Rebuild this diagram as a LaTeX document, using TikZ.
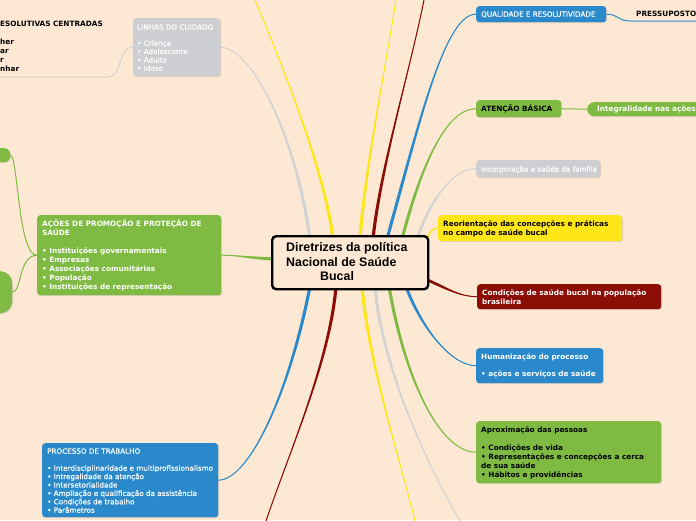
\documentclass[tikz,border=0pt]{standalone}
\usepackage{fontspec}
\setmainfont{DejaVu Sans}
\newfontfamily\cfont{Liberation Sans}
\newfontfamily\mfont[FakeBold=0.5]{DejaVu Sans}
\usetikzlibrary{calc,shadows}
\definecolor{bg}{HTML}{FDE8D3}
\definecolor{mgreen}{HTML}{7FBB42}
\definecolor{mblue}{HTML}{2A89CB}
\definecolor{mgray}{HTML}{CDCED1}
\definecolor{lgray}{HTML}{D2D3D5}
\definecolor{myellow}{HTML}{FFE619}
\definecolor{mred}{HTML}{8B0D05}
\pgfdeclarelayer{back}
\pgfdeclarelayer{lines}
\pgfsetlayers{back,lines,main}
\newcommand\fl{\rule{0pt}{7pt}}
% tapered branch: colour, start, c1, c2, end, half-width vector
\newcommand\tb[6]{%
  \fill[#1] ($(#2)+#6$) .. controls ($#3+#6$) and #4 .. (#5) .. controls #4 and ($#3-#6$) .. ($(#2)-#6$) -- cycle;
  \draw[#1,line width=1pt] (#2) .. controls #3 and #4 .. (#5);}
\begin{document}
\begin{tikzpicture}[x=1pt,y=-1pt,
  mbox/.style={anchor=north west, inner sep=0pt, rounded corners=3pt,
    drop shadow={shadow xshift=0.8pt, shadow yshift=-0.8pt, opacity=0.25}},
  txt/.style={anchor=north west, inner sep=0pt, align=left, font=\mfont\fontsize{7.2}{8.8}\selectfont},
  btxt/.style={anchor=north west, inner sep=0pt, align=left, font=\bfseries\fontsize{7.3}{9}\selectfont},
  frag/.style={anchor=base west, inner sep=0pt, font=\bfseries\fontsize{7.3}{9}\selectfont},
  conn/.style={line width=1pt}]
\useasboundingbox (0,0) rectangle (696,520);
\begin{pgfonlayer}{back}
\fill[bg] (0,0) rectangle (696,520);
\end{pgfonlayer}

% central node
\node[draw=black, line width=2.4pt, rounded corners=4pt, fill=bg, minimum width=156pt, minimum height=53pt, inner sep=0pt, anchor=north west] (c) at (271,235) {};
\node[anchor=north west, inner sep=0pt, align=left, font=\cfont\bfseries\fontsize{12.4}{14.5}\selectfont] (ct) at (286,242) {\rule{0pt}{9.5pt}Diretrizes da política\\Nacional de Saúde\\\hspace*{34pt}Bucal};

% left side
\node[mbox, fill=mgray, minimum width=87pt, minimum height=58pt] (linhas) at (133,18) {};
\node[txt, text=white, font=\mfont\fontsize{7.2}{8.4}\selectfont] (linhast) at (137,22.5) {\fl LINHAS DO CUIDADO\\[7.6pt]• Criança\\• Adolescente\\• Adulto\\• Idoso};

\node[anchor=base east, inner sep=0pt, font=\bfseries\fontsize{7.3}{9}\selectfont] (tl1) at (103,26.5) {ESOLUTIVAS CENTRADAS};
\node[frag] (tl2) at (0,44.5) {her};
\node[frag] (tl3) at (0,53.5) {ar};
\node[frag] (tl4) at (0,62) {r};
\node[frag] (tl5) at (0,71.5) {nhar};
\coordinate (tlu) at (-5,77);

\node[mbox, fill=mgreen, minimum width=35pt, minimum height=14pt, rounded corners=6pt] (lg1) at (-25,148) {};
\node[mbox, fill=mgreen, minimum width=45pt, minimum height=42pt, rounded corners=12pt] (lg2) at (-33,271) {};

\node[mbox, fill=mgreen, minimum width=184pt, minimum height=80pt] (acoes) at (37,215) {};
\node[btxt, text=white] (acoest) at (42,219.5) {\fl AÇÕES DE PROMOÇÃO E PROTEÇÃO DE\\SAÚDE\\[9pt]• Instituições governamentais\\• Empresas\\• Associações comunitárias\\• População\\• Instituições de representação};

\node[mbox, fill=mblue, minimum width=176pt, minimum height=74pt] (proc) at (42,443) {};
\node[txt, text=white, font=\mfont\fontsize{7.2}{8.4}\selectfont] (proct) at (47,446.5) {\fl PROCESSO DE TRABALHO\\[8.6pt]• Interdisciplinaridade e multiprofissionalismo\\• Intregalidade da atenção\\• Intersetorialidade\\• Ampliação e qualificação da assistência\\• Condições de trabalho\\• Parâmetros};

% right side
\node[mbox, fill=mblue, minimum width=130pt, minimum height=16pt] (qual) at (476,6) {};
\node[txt, text=white] (qualt) at (481,9.5) {\fl QUALIDADE E RESOLUTIVIDADE};
\node[anchor=base west, inner sep=0pt, font=\bfseries\fontsize{7.3}{9}\selectfont] (press) at (636,16.5) {PRESSUPOSTO};
\coordinate (pu) at (700,21);

\node[mbox, fill=mgreen, minimum width=85pt, minimum height=17pt] (aten) at (476,100) {};
\node[btxt] (atent) at (481,104.5) {\fl ATENÇÃO BÁSICA};
\node[mbox, fill=mgreen, minimum width=123pt, minimum height=14pt, rounded corners=7pt] (integ) at (587,102) {};
\node[anchor=base west, inner sep=0pt, text=white, font=\bfseries\fontsize{7.3}{9}\selectfont] (integt) at (597,111.5) {Integralidade nas ações};

\node[mbox, fill=mgray, minimum width=124pt, minimum height=17pt] (inc) at (476,160) {};
\node[txt, text=white] (inct) at (481,164.5) {\fl Incorporação a saúde da família};

\node[mbox, fill=myellow, minimum width=184pt, minimum height=26pt] (reor) at (438,215) {};
\node[btxt] (reort) at (443,219.5) {\fl Reorientação das concepções e práticas\\no campo de saúde bucal};

\node[mbox, fill=mred, minimum width=184pt, minimum height=25pt] (cond) at (477,284) {};
\node[btxt, text=white] (condt) at (482,288.5) {\fl Condições de saúde bucal na população\\brasileira};

\node[mbox, fill=mblue, minimum width=127pt, minimum height=35pt] (hum) at (476,348) {};
\node[btxt, text=white] (humt) at (481,352.5) {\fl Humanização do processo\\[8pt]• ações e serviços de saúde};

\node[mbox, fill=mgreen, minimum width=185pt, minimum height=62pt] (apro) at (476,421) {};
\node[btxt] (aprot) at (481,425.5) {\fl Aproximação das pessoas\\[9pt]• Condições de vida\\• Representações e concepções a cerca\\de sua saúde\\• Hábitos e providências};

% coordinates on central node
\coordinate (s1) at ($(c.north west)+(39,4)$);
\coordinate (s2) at ($(c.north west)+(62,4)$);
\coordinate (s3) at ($(c.north west)+(89,4)$);
\coordinate (s4) at ($(c.north west)+(102,4)$);
\coordinate (s5) at ($(c.north west)+(116,4)$);
\coordinate (s6) at ($(c.north west)+(131,4)$);
\coordinate (s7) at ($(c.north west)+(146,4)$);
\coordinate (sy) at ($(c.north east)+(-3,5)$);
\coordinate (sr) at ($(c.north east)+(-4,44)$);
\coordinate (sl) at ($(c.north west)+(4,24)$);
\coordinate (b1) at ($(c.south west)+(39,-4)$);
\coordinate (b2) at ($(c.south west)+(65,-4)$);
\coordinate (b3) at ($(c.south west)+(91,-4)$);
\coordinate (b4) at ($(c.south west)+(104,-4)$);
\coordinate (b5) at ($(c.south west)+(118,-4)$);
\coordinate (b6) at ($(c.south west)+(135,-4)$);
\coordinate (e1) at (255,0);
\coordinate (e2) at (396,0);
\coordinate (e3) at (424,0);
\coordinate (e4) at (266,521);
\coordinate (e5) at (415,521);
\coordinate (e6) at (460,521);

\begin{pgfonlayer}{lines}
\tb{lgray}{s1}{(295,130)}{(250,47)}{linhas.east}{(1.6,0)}
\tb{myellow}{s2}{(325,170)}{(280,60)}{e1}{(1.6,0)}
\tb{myellow}{s3}{(365,170)}{(385,70)}{e2}{(1.6,0)}
\tb{mred}{s4}{(380,170)}{(410,70)}{e3}{(1.6,0)}
\tb{mblue}{s5}{(420,120)}{(445,14)}{qual.west}{(1.6,0)}
\tb{mgreen}{s6}{(420,170)}{(445,108.5)}{aten.west}{(1.6,0)}
\tb{lgray}{s7}{(432,195)}{(455,168.5)}{inc.west}{(1.6,0)}
\tb{mred}{sr}{(450,290)}{(460,296.5)}{cond.west}{(0,1.6)}
\tb{mgreen}{sl}{(250,258)}{(235,255)}{acoes.east}{(0,1.6)}
\tb{mblue}{b1}{(290,390)}{(250,480)}{proc.east}{(1.6,0)}
\tb{mred}{b2}{(330,360)}{(290,450)}{e4}{(1.6,0)}
\tb{myellow}{b3}{(368,360)}{(400,460)}{e5}{(1.6,0)}
\tb{lgray}{b4}{(382,370)}{(430,470)}{e6}{(1.6,0)}
\tb{mgreen}{b5}{(405,380)}{(440,452)}{apro.west}{(1.6,0)}
\tb{mblue}{b6}{(420,325)}{(450,365.5)}{hum.west}{(1.6,0)}
\draw[myellow, line width=1.4pt] (sy) .. controls (430,232) and (432,228) .. (reor.west);
\draw[lgray, conn] (tlu) -- (108,77) .. controls (122,77) and (118,47) .. (linhas.west);
\draw[mgreen, conn] (acoes.west) .. controls (18,256) and (18,155) .. (lg1.east);
\draw[mgreen, conn] (acoes.west) .. controls (18,256) and (22,292) .. (lg2.east);
\draw[mblue, conn] (qual.east) .. controls (618,14) and (618,21) .. (630,21) -- (pu);
\draw[mgreen, conn] (aten.east) -- (integ.west);
\end{pgfonlayer}
\end{tikzpicture}
\end{document}
